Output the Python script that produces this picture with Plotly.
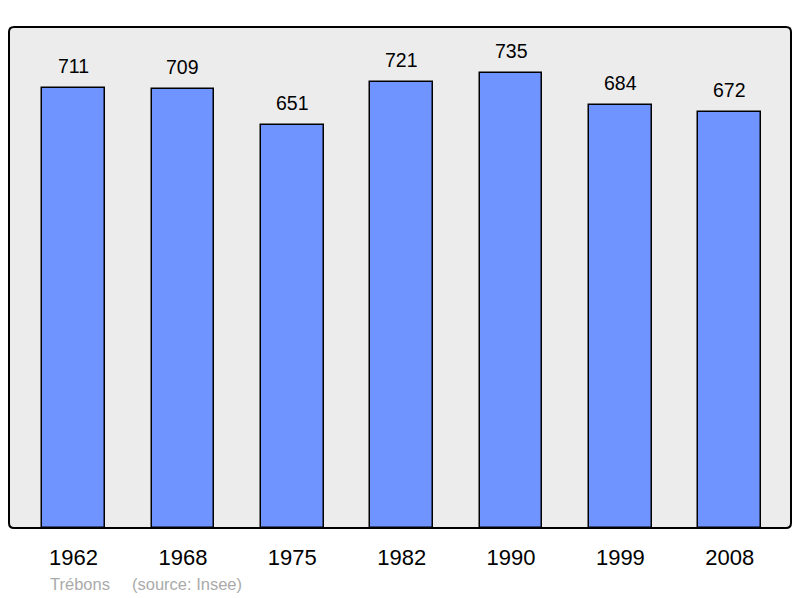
import plotly.graph_objects as go

years = ["1962", "1968", "1975", "1982", "1990", "1999", "2008"]
population = [711, 709, 651, 721, 735, 684, 672]
commune = "Trébons"
source = "(source: Insee)"

FONT = "Liberation Sans, Arial, sans-serif"

fig = go.Figure()
fig.add_trace(go.Bar(
    x=list(range(len(years))), y=population,
    width=0.574,
    marker=dict(color="#7094ff", line=dict(color="#000000", width=1.5)),
    hoverinfo="skip",
))

for i, v in enumerate(population):
    fig.add_annotation(x=i, y=v, text=str(v), showarrow=False,
                       yanchor="bottom", yshift=9,
                       font=dict(family=FONT, size=19.5, color="#000"))

# rounded frame
rx, ry = 5 / 782, 5 / 501
path = (f"M {rx},0 L {1-rx},0 Q 1,0 1,{ry} L 1,{1-ry} Q 1,1 {1-rx},1 "
        f"L {rx},1 Q 0,1 0,{1-ry} L 0,{ry} Q 0,0 {rx},0 Z")
fig.add_shape(type="path", xref="paper", yref="paper", path=path,
              line=dict(color="#000", width=2), layer="above")

fig.add_annotation(xref="paper", yref="paper", x=(48 - 9) / 782, y=-(584 - 528) / 501,
                   xanchor="left", yanchor="middle", showarrow=False,
                   text=commune,
                   font=dict(family=FONT, size=16.5, color="#aaaaaa"))
fig.add_annotation(xref="paper", yref="paper", x=(130 - 9) / 782, y=-(584 - 528) / 501,
                   xanchor="left", yanchor="middle", showarrow=False,
                   text=source,
                   font=dict(family=FONT, size=16.5, color="#aaaaaa"))

fig.update_layout(
    width=800, height=598,
    margin=dict(l=9, r=9, t=27, b=70),
    paper_bgcolor="#ffffff", plot_bgcolor="#ececec",
    showlegend=False,
    bargap=0,
    xaxis=dict(range=[-0.59, 6.56], tickmode="array", tickvals=list(range(len(years))),
               ticktext=years, showgrid=False, zeroline=False, showline=False,
               ticks="outside", ticklen=10, tickcolor="rgba(0,0,0,0)",
               tickfont=dict(family=FONT, size=22, color="#000")),
    yaxis=dict(range=[0, 810], showgrid=False, zeroline=False, showticklabels=False,
               showline=False),
)

fig.write_html("out.html", config={"displayModeBar": False},
               post_script="document.body.style.margin='0';document.body.style.padding='0';")
